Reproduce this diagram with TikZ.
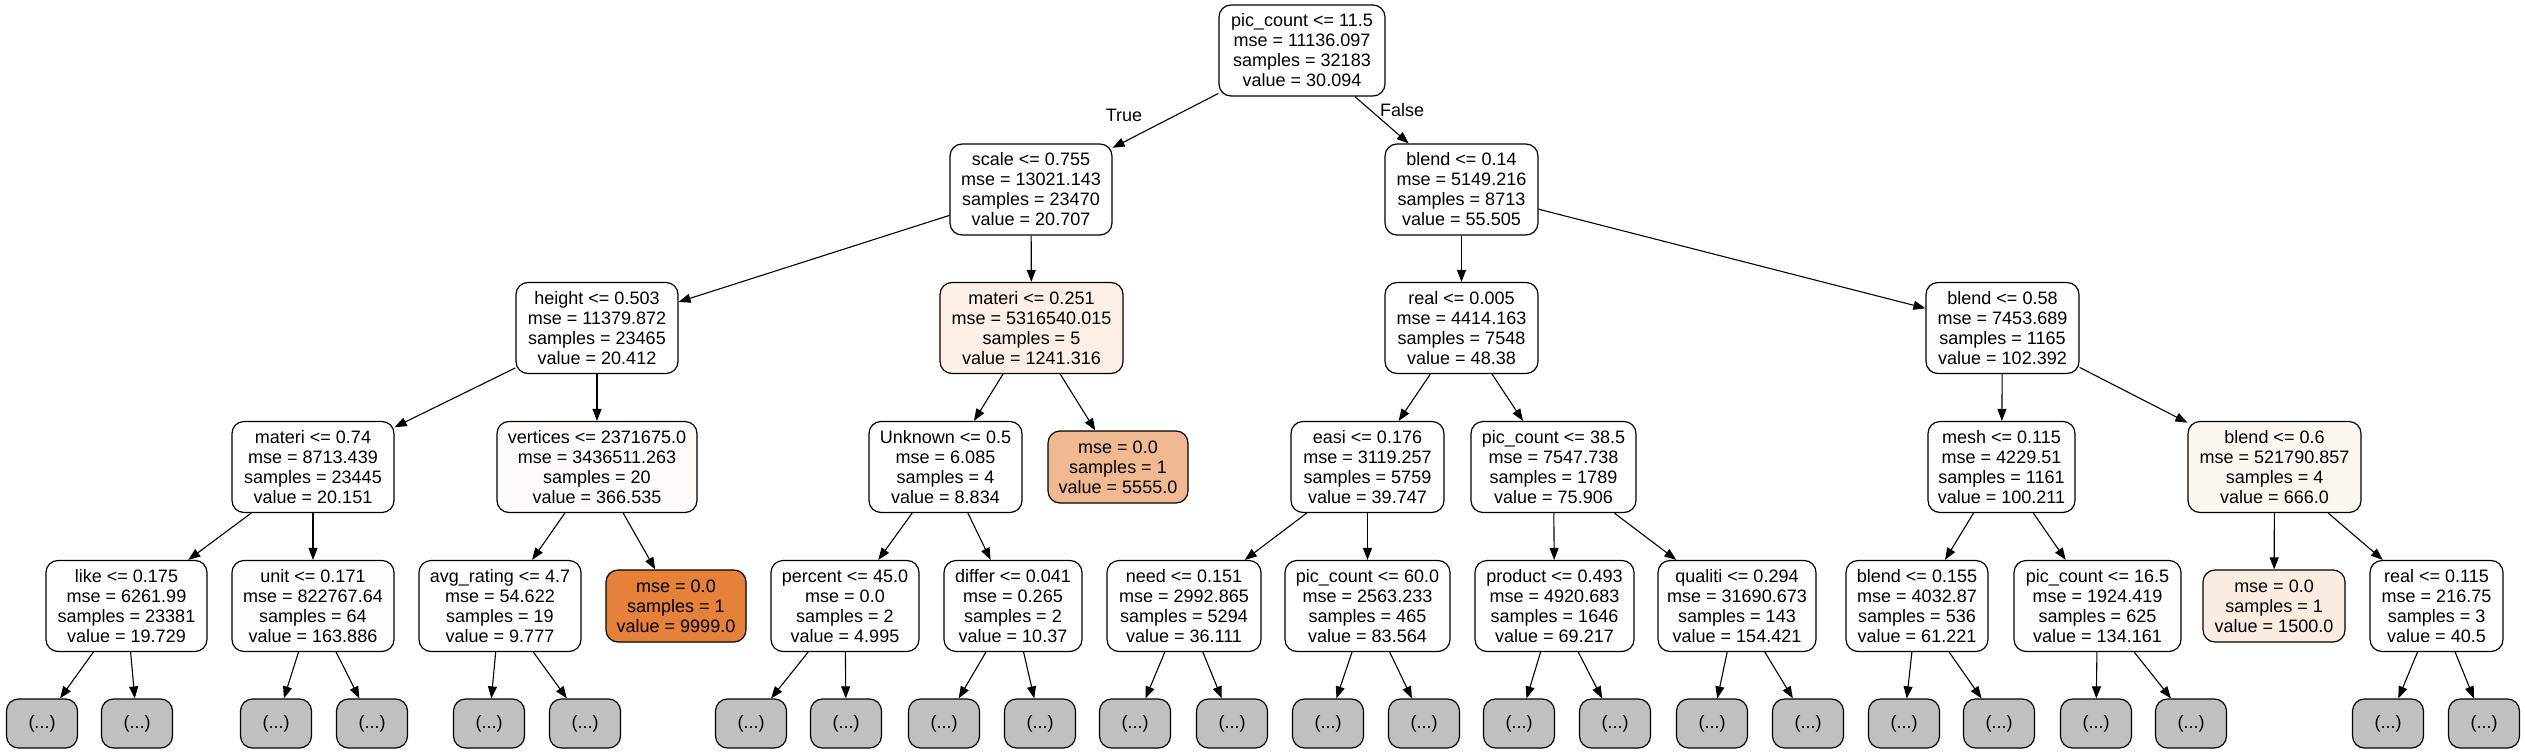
\documentclass[tikz,border=0pt]{standalone}
\usepackage{fontspec}
\setmainfont{Liberation Sans}
\usetikzlibrary{arrows.meta}
\definecolor{dotgrey}{RGB}{192,192,192}
\definecolor{c9999}{RGB}{229,129,57}
\definecolor{c5555}{RGB}{241,185,145}
\definecolor{c1241}{RGB}{252,239,230}
\definecolor{c1500}{RGB}{251,236,225}
\definecolor{c666}{RGB}{253,247,242}
\definecolor{c366}{RGB}{254,250,247}
\definecolor{c160}{RGB}{255,253,251}
\definecolor{c100}{RGB}{255,254,253}
\tikzset{
  tn/.style={draw=black, line width=1.2pt, rounded corners=12pt, align=center,
    inner sep=0pt, minimum height=91pt, fill=white,
    font=\fontsize{18}{20}\selectfont},
  lf/.style={tn, minimum height=72pt},
  dots/.style={tn, minimum height=49pt, minimum width=71pt, fill=dotgrey},
  edge/.style={draw=black, line width=1.1pt, -{Triangle[length=12pt,width=9pt]}},
  elab/.style={font=\fontsize{18}{20}\selectfont, inner sep=0pt},
}
\begin{document}
\begin{tikzpicture}[x=1pt,y=-1pt]
\useasboundingbox[fill=white] (0,0) rectangle (2525,752);
% level 0
\node[tn, minimum width=166pt] (root) at (1302,50.5) {pic\_count <= 11.5\\mse = 11136.097\\samples = 32183\\value = 30.094};
% level 1
\node[tn, minimum width=162pt] (scale) at (1031,189.5) {scale <= 0.755\\mse = 13021.143\\samples = 23470\\value = 20.707};
\node[tn, minimum width=153pt] (blendA) at (1461.5,189.5) {blend <= 0.14\\mse = 5149.216\\samples = 8713\\value = 55.505};
% level 2
\node[tn, minimum width=162pt] (height) at (597,328) {height <= 0.503\\mse = 11379.872\\samples = 23465\\value = 20.412};
\node[tn, minimum width=183pt, fill=c1241] (materiA) at (1031.5,328) {materi <= 0.251\\mse = 5316540.015\\samples = 5\\value = 1241.316};
\node[tn, minimum width=153pt] (realA) at (1461.5,328) {real <= 0.005\\mse = 4414.163\\samples = 7548\\value = 48.38};
\node[tn, minimum width=153pt, fill=c100] (blendB) at (2002.5,328) {blend <= 0.58\\mse = 7453.689\\samples = 1165\\value = 102.392};
% level 3
\node[tn, minimum width=162pt] (materiB) at (313,467) {materi <= 0.74\\mse = 8713.439\\samples = 23445\\value = 20.151};
\node[tn, minimum width=200pt, fill=c366] (vert) at (597,467) {vertices <= 2371675.0\\mse = 3436511.263\\samples = 20\\value = 366.535};
\node[tn, minimum width=153pt] (unk) at (945.5,467) {Unknown <= 0.5\\mse = 6.085\\samples = 4\\value = 8.834};
\node[lf, minimum width=140pt, fill=c5555] (l5555) at (1118,467) {mse = 0.0\\samples = 1\\value = 5555.0};
\node[tn, minimum width=153pt] (easi) at (1367.5,467) {easi <= 0.176\\mse = 3119.257\\samples = 5759\\value = 39.747};
\node[tn, minimum width=165pt] (picA) at (1553.5,467) {pic\_count <= 38.5\\mse = 7547.738\\samples = 1789\\value = 75.906};
\node[tn, minimum width=147pt, fill=c100] (mesh) at (2001.5,467) {mesh <= 0.115\\mse = 4229.51\\samples = 1161\\value = 100.211};
\node[tn, minimum width=173pt, fill=c666] (blendC) at (2274.5,467) {blend <= 0.6\\mse = 521790.857\\samples = 4\\value = 666.0};
% level 4
\node[tn, minimum width=161pt] (like) at (126.5,606) {like <= 0.175\\mse = 6261.99\\samples = 23381\\value = 19.729};
\node[tn, minimum width=162pt, fill=c160] (unit) at (313,606) {unit <= 0.171\\mse = 822767.64\\samples = 64\\value = 163.886};
\node[tn, minimum width=162pt] (avg) at (500,606) {avg\_rating <= 4.7\\mse = 54.622\\samples = 19\\value = 9.777};
\node[lf, minimum width=140pt, fill=c9999] (l9999) at (676,606) {mse = 0.0\\samples = 1\\value = 9999.0};
\node[tn, minimum width=148pt] (perc) at (845,606) {percent <= 45.0\\mse = 0.0\\samples = 2\\value = 4.995};
\node[tn, minimum width=138pt] (diff) at (1013,606) {differ <= 0.041\\mse = 0.265\\samples = 2\\value = 10.37};
\node[tn, minimum width=154pt] (need) at (1184,606) {need <= 0.151\\mse = 2992.865\\samples = 5294\\value = 36.111};
\node[tn, minimum width=165pt] (picB) at (1367.5,606) {pic\_count <= 60.0\\mse = 2563.233\\samples = 465\\value = 83.564};
\node[tn, minimum width=159pt] (prod) at (1554.5,606) {product <= 0.493\\mse = 4920.683\\samples = 1646\\value = 69.217};
\node[tn, minimum width=158pt, fill=c160] (qual) at (1737,606) {qualiti <= 0.294\\mse = 31690.673\\samples = 143\\value = 154.421};
\node[tn, minimum width=142pt] (blendD) at (1917,606) {blend <= 0.155\\mse = 4032.87\\samples = 536\\value = 61.221};
\node[tn, minimum width=167pt, fill=c160] (picC) at (2097.5,606) {pic\_count <= 16.5\\mse = 1924.419\\samples = 625\\value = 134.161};
\node[lf, minimum width=142pt, fill=c1500] (l1500) at (2274,606) {mse = 0.0\\samples = 1\\value = 1500.0};
\node[tn, minimum width=133pt] (realB) at (2436.5,606) {real <= 0.115\\mse = 216.75\\samples = 3\\value = 40.5};
% level 5
\foreach \n/\x in {d1/42,d2/137,d3/276,d4/372,d5/489,d6/585,d7/751,d8/846,d9/944,d10/1040,d11/1135,d12/1232,d13/1328,d14/1424,d15/1519,d16/1615,d17/1712,d18/1808,d19/1904,d20/1999,d21/2096,d22/2191,d23/2388,d24/2484}
  \node[dots] (\n) at (\x,723.5) {(...)};
% edges
\draw[edge] (root) -- (scale);
\draw[edge] (root) -- (blendA);
\node[elab] (tlab) at (1124,115) {True};
\node[elab] (flab) at (1402,110) {False};
\foreach \a/\b in {scale/height,scale/materiA,blendA/realA,blendA/blendB,
  height/materiB,height/vert,materiA/unk,materiA/l5555,realA/easi,realA/picA,
  blendB/mesh,blendB/blendC,materiB/like,materiB/unit,vert/avg,vert/l9999,
  unk/perc,unk/diff,easi/need,easi/picB,picA/prod,picA/qual,mesh/blendD,
  mesh/picC,blendC/l1500,blendC/realB,
  like/d1,like/d2,unit/d3,unit/d4,avg/d5,avg/d6,perc/d7,perc/d8,diff/d9,diff/d10,
  need/d11,need/d12,picB/d13,picB/d14,prod/d15,prod/d16,qual/d17,qual/d18,
  blendD/d19,blendD/d20,picC/d21,picC/d22,realB/d23,realB/d24}
  \draw[edge] (\a) -- (\b);
\end{tikzpicture}
\end{document}
